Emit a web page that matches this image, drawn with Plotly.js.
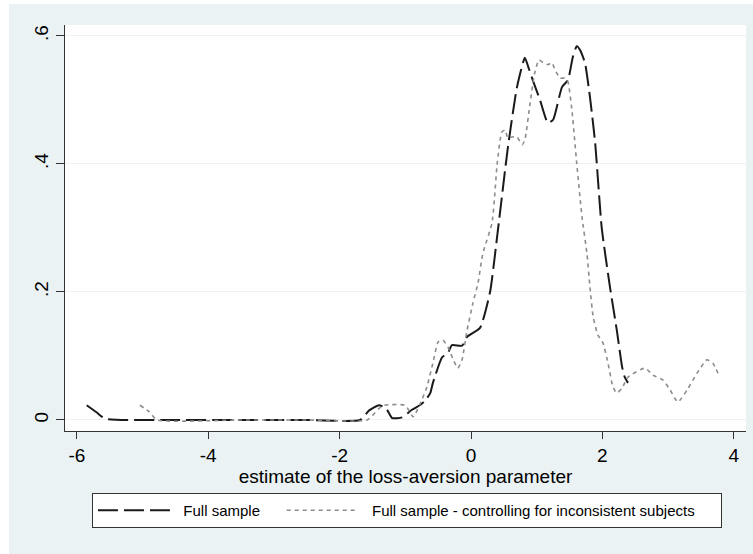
<!DOCTYPE html>
<html>
<head>
<meta charset="utf-8">
<script src="https://cdn.plot.ly/plotly-3.0.1.min.js"></script>
<style>
  html, body { margin: 0; padding: 0; background: #ffffff; width: 753px; height: 554px; overflow: hidden; }
  #chart { position: absolute; left: 9px; top: 4px; width: 744px; height: 550px; }
</style>
</head>
<body>
<div id="chart"></div>
<script>
// Full sample (black long dash)
const fullX = [-5.85, -5.7, -5.57, -4.5, -3.5, -2.5, -1.69, -1.55, -1.4, -1.29, -1.2, -1.05, -0.9, -0.78, -0.7,
  -0.62, -0.58, -0.44, -0.35, -0.29, -0.137, -0.06, 0.137, 0.29, 0.41, 0.563, 0.70, 0.82, 0.87, 0.94, 1.05,
  1.17, 1.25, 1.385, 1.476, 1.55, 1.61, 1.66, 1.735, 1.81, 1.89, 1.99, 2.115, 2.22, 2.30, 2.34, 2.39];
const fullY = [0.023, 0.012, 0.002, 0, 0, 0, 0, 0.015, 0.023, 0.018, 0.003, 0.004, 0.016, 0.023, 0.03,
  0.042, 0.058, 0.098, 0.105, 0.117, 0.116, 0.13, 0.144, 0.2, 0.297, 0.427, 0.52, 0.566, 0.552, 0.531, 0.50,
  0.464, 0.469, 0.52, 0.531, 0.567, 0.584, 0.578, 0.558, 0.505, 0.433, 0.30, 0.208, 0.14, 0.083, 0.067, 0.058];

// Full sample - controlling for inconsistent subjects (grey short dash)
const ctrlX = [-5.04, -4.9, -4.78, -3.5, -2.5, -1.58, -1.4, -1.32, -1.0, -0.88, -0.75, -0.67, -0.58, -0.50,
  -0.43, -0.35, -0.27, -0.20, -0.137, -0.06, 0.03, 0.107, 0.18, 0.32, 0.40, 0.47, 0.52, 0.56, 0.62, 0.70,
  0.78, 0.82, 0.90, 0.97, 1.035, 1.10, 1.17, 1.23, 1.28, 1.355, 1.43, 1.476, 1.54, 1.61, 1.69, 1.765, 1.81,
  1.86, 1.93, 2.01, 2.085, 2.16, 2.22, 2.30, 2.39, 2.65, 2.77, 2.92, 3.03, 3.15, 3.29, 3.44, 3.59, 3.68, 3.76];
const ctrlY = [0.023, 0.013, 0, 0, 0, 0, 0.018, 0.023, 0.023, 0.005, 0.031, 0.052, 0.089, 0.122,
  0.125, 0.114, 0.094, 0.081, 0.094, 0.14, 0.183, 0.214, 0.26, 0.308, 0.402, 0.45, 0.453, 0.44, 0.442, 0.442,
  0.43, 0.4375, 0.495, 0.542, 0.5625, 0.558, 0.555, 0.558, 0.547, 0.534, 0.534, 0.528, 0.48, 0.40, 0.317, 0.26, 0.208,
  0.161, 0.133, 0.12, 0.089, 0.052, 0.042, 0.05, 0.067, 0.081, 0.07, 0.0625, 0.047, 0.028, 0.047, 0.073, 0.094, 0.089, 0.073];

const xTickVals = [-6, -4, -2, 0, 2, 4];
const xTickText = ['-6', '-4', '-2', '0', '2', '4'];
const yTickVals = [0, 0.2, 0.4, 0.6];
const yTickText = ['0', '.2', '.4', '.6'];

const seriesNames = ['Full sample', 'Full sample - controlling for inconsistent subjects'];
const xTitle = 'estimate of the loss-aversion parameter';

const FONT = '"Liberation Sans", Arial, sans-serif';
const NB = '\u00a0';
// legend spacing only (non-breaking spaces around the names)
const legendNames = [
  NB + NB + seriesNames[0] + NB.repeat(4),
  NB + NB + seriesNames[1] + NB.repeat(5)
];

const traces = [
  {
    x: fullX, y: fullY, type: 'scatter', mode: 'lines', name: legendNames[0],
    line: { color: '#1a1a1a', width: 2, dash: '20px,6px', shape: 'spline', smoothing: 0.5 }
  },
  {
    x: ctrlX, y: ctrlY, type: 'scatter', mode: 'lines', name: legendNames[1],
    line: { color: '#8c8c8c', width: 1.6, dash: '4px,4px', shape: 'spline', smoothing: 0.5 }
  }
];

const layout = {
  width: 744, height: 550,
  margin: { l: 56, r: 7, t: 21, b: 123, pad: 0 },
  paper_bgcolor: '#eaf2f3',
  plot_bgcolor: '#ffffff',
  font: { family: FONT, color: '#000000', size: 19 },
  showlegend: true,
  xaxis: {
    range: [-6.18, 4.186],
    tickvals: xTickVals, ticktext: xTickText,
    ticks: 'outside', ticklen: 7, tickwidth: 1, tickcolor: '#333333',
    showline: true, linecolor: '#333333', linewidth: 1,
    showgrid: false, zeroline: false,
    tickfont: { size: 19, family: FONT, color: '#000' },
    title: { text: xTitle, font: { size: 19, family: FONT, color: '#000' }, standoff: 0 },
    automargin: false, fixedrange: true
  },
  yaxis: {
    range: [-0.0172, 0.617],
    tickvals: yTickVals, ticktext: yTickText,
    tickangle: -90,
    ticks: 'outside', ticklen: 8, tickwidth: 1, tickcolor: '#333333',
    showline: true, linecolor: '#333333', linewidth: 1,
    showgrid: true, gridcolor: '#eaf2f3', gridwidth: 1,
    zeroline: false,
    tickfont: { size: 19, family: FONT, color: '#000' },
    automargin: false, fixedrange: true
  },
  legend: {
    orientation: 'h',
    x: 0.0396, xanchor: 'left',
    y: -0.1527, yanchor: 'top',
    bgcolor: '#ffffff', bordercolor: '#333333', borderwidth: 1,
    font: { size: 15, family: FONT, color: '#000' },
    itemwidth: 72,
    traceorder: 'normal'
  }
};

Plotly.newPlot('chart', traces, layout, { staticPlot: true, displayModeBar: false });
</script>
</body>
</html>
